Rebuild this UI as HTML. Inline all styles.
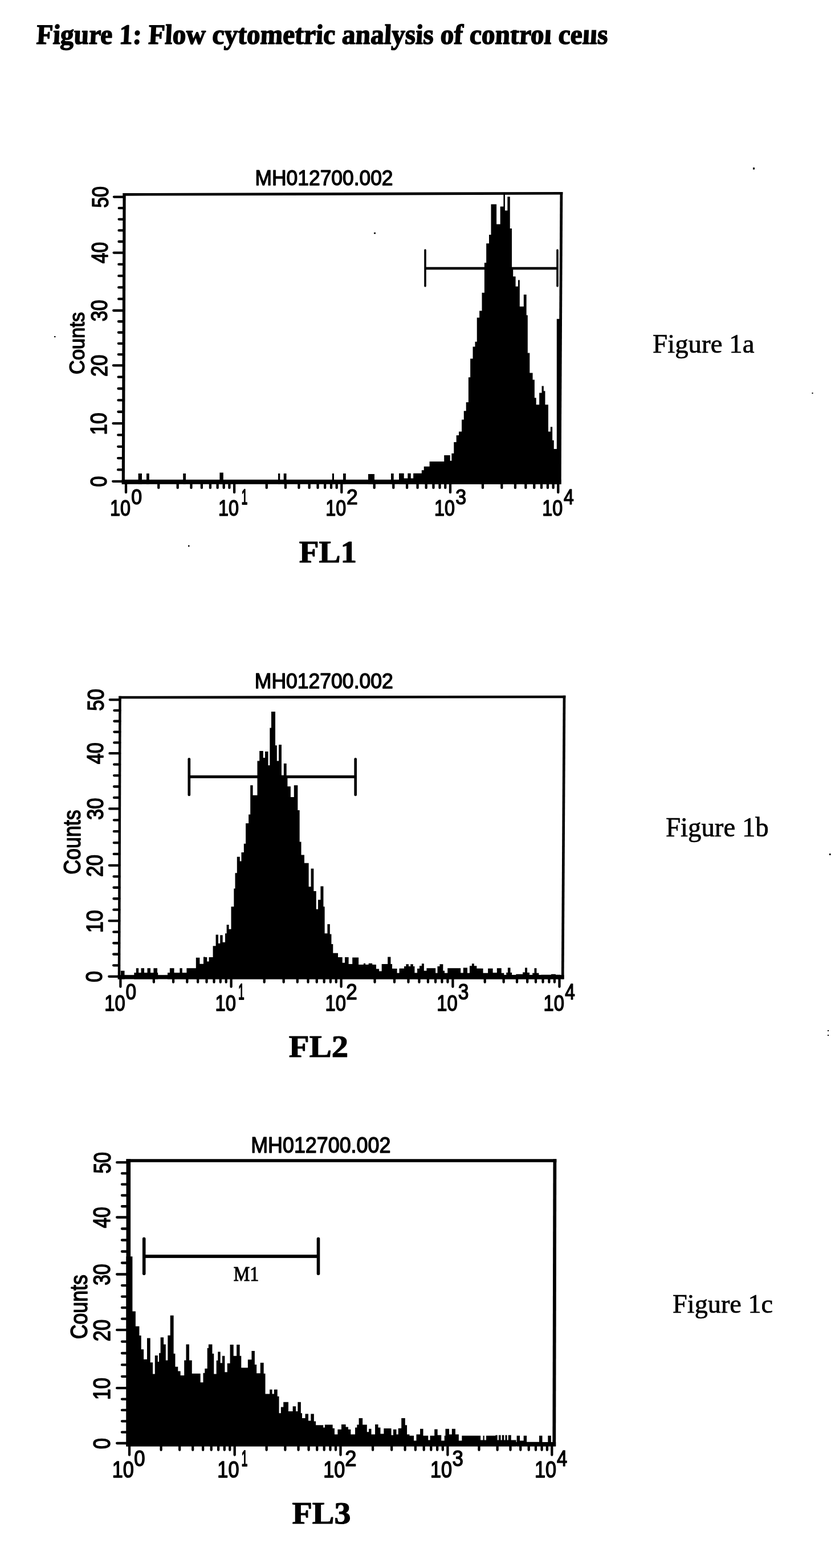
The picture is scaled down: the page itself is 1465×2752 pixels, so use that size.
<!DOCTYPE html>
<html lang="en">
<head>
<meta charset="utf-8">
<title>Figure 1: Flow cytometric analysis of control cells</title>
<style>
html,body{margin:0;padding:0;background:#fff;}
body{width:1465px;height:2752px;overflow:hidden;position:relative;}
svg{position:absolute;left:0;top:0;display:block;}
svg text{fill:#000;white-space:pre;}
svg path,svg rect{fill:#000;}
</style>
</head>
<body>
<svg width="1465" height="2752" viewBox="0 0 1465 2752">
<rect x="0" y="0" width="1465" height="2752" style="fill:#fff"/>
<!-- page heading -->
<text transform="translate(63.22 76.95) scale(0.9646 1) skewX(-3)" font-family='"Liberation Serif", "Times New Roman", Times, serif' font-weight="bold" font-size="49.16" stroke="#000" stroke-width="1.5" stroke-linejoin="round" vector-effect="non-scaling-stroke">Figure 1: Flow cytometric analysis of control cells</text>
<!-- scan cut-off above the last words of the heading -->
<rect x="890" y="30" width="190" height="22.6" style="fill:#fff"/>
<!-- scanner specks -->
<path d="M1321 294h3v3.5h-3zM656 408h3v2.5h-3zM95 590h2.5v2h-2.5zM330 957h2.5v2.5h-2.5zM1424.5 689h2v2h-2zM1455 1498h2.5v3h-2.5zM1452 1808h2v2h-2zM1452 1816h2v2h-2z"/>
<!-- Figure 1a : FL1 -->
<g>
<path d="M215.5 339.1L220.7 339.1L218.9 849.8L213.7 849.8Z"/>
<path d="M215.5 339.1L987.3 337L987.3 341.6L215.5 343.7Z"/>
<path d="M982.5 337L987.3 337L984.4 849.8L979.6 849.8Z"/>
<rect x="213.7" y="841.8" width="770.7" height="8"/>
<path d="M198.15 844.8H216.3M207.02 824.46H216.37M207.1 804.12H216.45M207.17 783.78H216.52M207.24 763.44H216.59M198.52 743.1H216.67M207.39 722.74H216.74M207.46 702.38H216.81M207.54 682.02H216.89M207.61 661.66H216.96M198.88 641.3H217.03M207.75 622.04H217.1M207.82 602.78H217.17M207.89 583.52H217.24M207.96 564.26H217.31M199.23 545H217.38M208.1 524.72H217.45M208.18 504.44H217.53M208.25 484.16H217.6M208.32 463.88H217.67M199.6 443.6H217.75M208.47 424H217.82M208.54 404.4H217.89M208.61 384.8H217.96M208.68 365.2H218.03M199.95 345.6H218.1" stroke="#000" stroke-width="4.3" fill="none" stroke-linecap="round"/>
<path d="M221 848.8V864.15M278.23 848.8V856.15M311.7 848.8V856.15M335.45 848.8V856.15M353.87 848.8V856.15M368.93 848.8V856.15M381.65 848.8V856.15M392.68 848.8V856.15M402.4 848.8V856.15M411.1 848.8V864.15M467.75 848.8V856.15M500.89 848.8V856.15M524.41 848.8V856.15M542.65 848.8V856.15M557.55 848.8V856.15M570.15 848.8V856.15M581.06 848.8V856.15M590.69 848.8V856.15M599.3 848.8V864.15M656.71 848.8V856.15M690.29 848.8V856.15M714.11 848.8V856.15M732.59 848.8V856.15M747.69 848.8V856.15M760.46 848.8V856.15M771.52 848.8V856.15M781.27 848.8V856.15M790 848.8V864.15M846.98 848.8V856.15M880.32 848.8V856.15M903.97 848.8V856.15M922.32 848.8V856.15M937.3 848.8V856.15M949.98 848.8V856.15M960.95 848.8V856.15M970.64 848.8V856.15M979.3 848.8V864.15" stroke="#000" stroke-width="4.3" fill="none" stroke-linecap="round"/>
<path d="M242.6 849.8V831H249V849.8H257V831H261.8V849.8H321.2V831H326V849.8H385.4V829.6H391.8V849.8H488V831H491.3V849.8H497.7V831H502.5V849.8H582.8V831H586V849.8H602V831H606.8V849.8H646V832H657V849.8H686V831H690.7V849.8H700V830.7H708.75V839.45H715.32V830.7H720.79V839.45H725.16V830.7H739.82V825.23H743.76V818.67H753.61V809.91H779.21V798.97H789.72V808.82H792.34V795.69H796.28V776H800.66V763.96H805.03V757.4H810.07V736.61H813.79V721.29H817.72V705.97H821.88V662.21H825.16V629.39H829.54V608.6H833.48V599.85H836.76V557.57H841.14V545.54H845.51V513.81H849.89V461.29H853.17V427.37H857.99V412.06H861.49V358.45H871.12V393.46H877.68V362.39H883.37V340.94H886V369.39H890.37V345.32H894.75V401.12H898.03V470.04H900.22V485.36H904.6V502.87H908.97V491.49H911.82V537.88H918.82V517.09H923.63V553.19H925.82V619.54H929.32V654.55H934.57V666.59H937.86V698.32H940.7V710.35H946.17V689.56H950.55V677.53H953.83V686.28H956.46V710.35H961.93V757.4H965.86V749.3H969.15V772.71H971.77V788.03H976.81V559.76H984.46V849.8Z"/>
<path d="M746 439.1L746 502" stroke="#000" stroke-width="3.6" fill="none" stroke-linecap="round"/>
<path d="M978 439.1L978 502" stroke="#000" stroke-width="3.6" fill="none" stroke-linecap="round"/>
<rect x="746" y="468.7" width="232" height="4.6"/>
</g>
<g>
<text transform="translate(447.58 325.3) scale(0.9422 1)" font-family='"Liberation Sans", Arial, Helvetica, sans-serif' font-weight="normal" font-size="37.56" stroke="#000" stroke-width="1.4" stroke-linejoin="round" vector-effect="non-scaling-stroke">MH012700.002</text>
<text transform="translate(186.68 854.53) rotate(-90) scale(0.8263 1)" font-family='"Liberation Sans", Arial, Helvetica, sans-serif' font-weight="normal" font-size="40.93" stroke="#000" stroke-width="1.45" stroke-linejoin="round" vector-effect="non-scaling-stroke">0</text>
<text transform="translate(187.29 763.62) rotate(-90) scale(0.8609 1)" font-family='"Liberation Sans", Arial, Helvetica, sans-serif' font-weight="normal" font-size="40.93" stroke="#000" stroke-width="1.45" stroke-linejoin="round" vector-effect="non-scaling-stroke">10</text>
<text transform="translate(187.9 660.89) rotate(-90) scale(0.8398 1)" font-family='"Liberation Sans", Arial, Helvetica, sans-serif' font-weight="normal" font-size="40.93" stroke="#000" stroke-width="1.45" stroke-linejoin="round" vector-effect="non-scaling-stroke">20</text>
<text transform="translate(188.48 564.15) rotate(-90) scale(0.8297 1)" font-family='"Liberation Sans", Arial, Helvetica, sans-serif' font-weight="normal" font-size="40.93" stroke="#000" stroke-width="1.45" stroke-linejoin="round" vector-effect="non-scaling-stroke">30</text>
<text transform="translate(189.09 462.23) rotate(-90) scale(0.8179 1)" font-family='"Liberation Sans", Arial, Helvetica, sans-serif' font-weight="normal" font-size="40.93" stroke="#000" stroke-width="1.45" stroke-linejoin="round" vector-effect="non-scaling-stroke">40</text>
<text transform="translate(189.68 364.84) rotate(-90) scale(0.8317 1)" font-family='"Liberation Sans", Arial, Helvetica, sans-serif' font-weight="normal" font-size="40.93" stroke="#000" stroke-width="1.45" stroke-linejoin="round" vector-effect="non-scaling-stroke">50</text>
<text transform="translate(148.2 656.92) rotate(-90) scale(0.9314 1)" font-family='"Liberation Sans", Arial, Helvetica, sans-serif' font-weight="normal" font-size="36.99" stroke="#000" stroke-width="1.4" stroke-linejoin="round" vector-effect="non-scaling-stroke">Counts</text>
<text transform="translate(193 905.48) scale(0.8306 1)" font-family='"Liberation Sans", Arial, Helvetica, sans-serif' font-weight="normal" font-size="38.92" stroke="#000" stroke-width="1.45" stroke-linejoin="round" vector-effect="non-scaling-stroke">10</text>
<text transform="translate(230.17 885.07) scale(0.9021 1)" font-family='"Liberation Sans", Arial, Helvetica, sans-serif' font-weight="normal" font-size="37.49" stroke="#000" stroke-width="1.45" stroke-linejoin="round" vector-effect="non-scaling-stroke">0</text>
<text transform="translate(383.1 905.48) scale(0.8306 1)" font-family='"Liberation Sans", Arial, Helvetica, sans-serif' font-weight="normal" font-size="38.92" stroke="#000" stroke-width="1.45" stroke-linejoin="round" vector-effect="non-scaling-stroke">10</text>
<text transform="translate(423.46 885.07) scale(0.5211 1)" font-family='"Liberation Sans", Arial, Helvetica, sans-serif' font-weight="normal" font-size="37.49" stroke="#000" stroke-width="1.45" stroke-linejoin="round" vector-effect="non-scaling-stroke">1</text>
<text transform="translate(571.3 905.48) scale(0.8306 1)" font-family='"Liberation Sans", Arial, Helvetica, sans-serif' font-weight="normal" font-size="38.92" stroke="#000" stroke-width="1.45" stroke-linejoin="round" vector-effect="non-scaling-stroke">10</text>
<text transform="translate(608.05 885.07) scale(0.9467 1)" font-family='"Liberation Sans", Arial, Helvetica, sans-serif' font-weight="normal" font-size="37.49" stroke="#000" stroke-width="1.45" stroke-linejoin="round" vector-effect="non-scaling-stroke">2</text>
<text transform="translate(762 905.48) scale(0.8306 1)" font-family='"Liberation Sans", Arial, Helvetica, sans-serif' font-weight="normal" font-size="38.92" stroke="#000" stroke-width="1.45" stroke-linejoin="round" vector-effect="non-scaling-stroke">10</text>
<text transform="translate(799.25 885.07) scale(0.9069 1)" font-family='"Liberation Sans", Arial, Helvetica, sans-serif' font-weight="normal" font-size="37.49" stroke="#000" stroke-width="1.45" stroke-linejoin="round" vector-effect="non-scaling-stroke">3</text>
<text transform="translate(951.3 905.48) scale(0.8306 1)" font-family='"Liberation Sans", Arial, Helvetica, sans-serif' font-weight="normal" font-size="38.92" stroke="#000" stroke-width="1.45" stroke-linejoin="round" vector-effect="non-scaling-stroke">10</text>
<text transform="translate(989.11 885.07) scale(0.8530 1)" font-family='"Liberation Sans", Arial, Helvetica, sans-serif' font-weight="normal" font-size="37.49" stroke="#000" stroke-width="1.45" stroke-linejoin="round" vector-effect="non-scaling-stroke">4</text>
</g>
<text transform="translate(524.8 986.8) scale(1.0282 1)" font-family='"Liberation Serif", "Times New Roman", Times, serif' font-weight="bold" font-size="55.42" stroke="#000" stroke-width="1.2" stroke-linejoin="round" vector-effect="non-scaling-stroke">FL1</text>
<text transform="translate(1145.06 618.75) scale(0.9912 1)" font-family='"Liberation Serif", "Times New Roman", Times, serif' font-weight="normal" font-size="47.33" stroke="#000" stroke-width="0.7" stroke-linejoin="round" vector-effect="non-scaling-stroke">Figure 1a</text>
<!-- Figure 1b : FL2 -->
<g>
<path d="M208.25 1221.7L212.75 1221.7L211.25 1718.5L206.75 1718.5Z"/>
<path d="M208.25 1221.7L992.35 1220.7L992.35 1225.3L208.25 1226.3Z"/>
<path d="M987.65 1220.7L992.35 1220.7L989.55 1718.5L984.85 1718.5Z"/>
<rect x="206.75" y="1711.2" width="782.8" height="7.3"/>
<path d="M191.25 1713.8H209M199.11 1694.28H209.06M199.17 1674.76H209.12M199.23 1655.24H209.18M199.29 1635.72H209.24M191.55 1616.2H209.3M199.41 1596.72H209.36M199.47 1577.24H209.42M199.53 1557.76H209.48M199.59 1538.28H209.54M191.85 1518.8H209.6M199.71 1498.92H209.66M199.78 1479.04H209.73M199.84 1459.16H209.79M199.9 1439.28H209.85M192.16 1419.4H209.91M200.02 1399.96H209.97M200.08 1380.52H210.03M200.14 1361.08H210.09M200.2 1341.64H210.15M192.46 1322.2H210.21M200.32 1303.38H210.27M200.38 1284.56H210.33M200.43 1265.74H210.38M200.49 1246.92H210.44M192.75 1228.1H210.5" stroke="#000" stroke-width="4.3" fill="none" stroke-linecap="round"/>
<path d="M211.4 1717.5V1731.85M269.86 1717.5V1723.85M304.06 1717.5V1723.85M328.32 1717.5V1723.85M347.14 1717.5V1723.85M362.52 1717.5V1723.85M375.52 1717.5V1723.85M386.78 1717.5V1723.85M396.71 1717.5V1723.85M405.6 1717.5V1731.85M463.7 1717.5V1723.85M497.68 1717.5V1723.85M521.8 1717.5V1723.85M540.5 1717.5V1723.85M555.78 1717.5V1723.85M568.7 1717.5V1723.85M579.9 1717.5V1723.85M589.77 1717.5V1723.85M598.6 1717.5V1731.85M657.54 1717.5V1723.85M692.02 1717.5V1723.85M716.48 1717.5V1723.85M735.46 1717.5V1723.85M750.96 1717.5V1723.85M764.07 1717.5V1723.85M775.43 1717.5V1723.85M785.44 1717.5V1723.85M794.4 1717.5V1731.85M850.72 1717.5V1723.85M883.67 1717.5V1723.85M907.05 1717.5V1723.85M925.18 1717.5V1723.85M939.99 1717.5V1723.85M952.52 1717.5V1723.85M963.37 1717.5V1723.85M972.94 1717.5V1723.85M981.5 1717.5V1731.85" stroke="#000" stroke-width="4.3" fill="none" stroke-linecap="round"/>
<path d="M211.8 1718.5V1703.8H218.5V1718.5H235.3V1707.3H238.8V1699.3H243.17V1707.3H247.55V1699.3H253.02V1707.3H258.49V1699.3H263.96V1707.3H269.43V1699.3H276V1707.3H277.2V1718.5H294V1707.3H297.88V1699.3H305.54V1707.3H315.38V1699.3H319.76V1707.3H327.42V1699.3H343.83V1680.7H350.39V1691.64H356.96V1679.61H360V1679.91H363.28V1687.57H366.56V1679.91H373.57V1660.22H378.6V1640.53H382.98V1655.84H386.26V1641.18H390.63V1653.65H395.01V1638.34H397.64V1623.02H401.58V1630.68H405.51V1591.29H410.33V1559.56H412.52V1532.21H415.8V1503.76H420.83V1511.42H423.46V1496.11H427.83V1480.79H431.12V1444.92H436.15V1429.61H439.21V1378.18H443.59V1395.69H451.47V1335.51H455.19V1318.01H461.75V1330.04H465.03V1319.1H470.5V1343.17H473.35V1277.53H475.97V1249.08H482.98V1308.16H485.82V1335.51H489.1V1307.07H493.92V1360.68H497.86V1339.89H502.67V1362.87H504.42V1380.37H509.89V1398.97H515.8V1378.18H522.36V1421.95H525.65V1477.51H528.49V1500.48H533.96V1514.7H541.62V1556.28H545.56V1524.55H550.37V1563.94H554.75V1595.67H558.03V1579.26H562.41V1555.62H567.44V1591.29H569.63V1638.34H574.44V1621.93H578.82V1639.43H581.44V1656.94H584.29V1672.69H593.04V1679.91H600.7V1689.76H605.08V1679.91H611.64V1691.95H618.21V1680.57H629.15V1693.04H637.9V1690.85H641.18V1693.04H646.65V1690.85H653.22V1693.04H660V1700.55H665.1V1704.49H669.69V1692.01H680.2V1679.54H685.45V1692.01H688.07V1699.89H696.61V1707.77H700.55V1699.63H709.08V1695.95H712.36V1692.28H716.96V1695.95H720.24V1692.28H724.84V1695.95H727.46V1707.51H732.06V1699.89H736V1695.3H739.93V1691.36H743.87V1703.83H748.47V1699.23H764.22V1707.77H767.51V1695.95H771.44V1692.28H777.35V1703.83H779.98V1707.77H785.23V1699.23H808.21V1707.51H812.8V1698.58H820V1707.77H823.94V1695.3H827.88V1691.36H831.82V1695.3H836.41V1699.63H847.57V1707.77H856.11V1699.63H864.64V1707.37H871.86V1699.23H879.74V1707.77H884.33V1711.05H888.27V1707.11H890.9V1698.58H895.49V1707.11H898.12V1711.05H905.34V1709.74H917.16V1706.46H921.09V1698.58H925.03V1707.11H928.97V1711.05H934.22V1707.77H937.51V1699.23H941.44V1707.77H945.38V1711.05H949.32V1710.66H967.05V1709.74H974.92V1710.66H983.46V1718.5Z"/>
<path d="M331.8 1332.35L331.8 1394.95" stroke="#000" stroke-width="4.7" fill="none" stroke-linecap="round"/>
<path d="M623.7 1332.35L623.7 1394.95" stroke="#000" stroke-width="4.7" fill="none" stroke-linecap="round"/>
<rect x="331.8" y="1360.8" width="291.9" height="5"/>
</g>
<g>
<text transform="translate(446.77 1208.3) scale(0.9612 1)" font-family='"Liberation Sans", Arial, Helvetica, sans-serif' font-weight="normal" font-size="36.99" stroke="#000" stroke-width="1.4" stroke-linejoin="round" vector-effect="non-scaling-stroke">MH012700.002</text>
<text transform="translate(179.28 1724.09) rotate(-90) scale(0.8552 1)" font-family='"Liberation Sans", Arial, Helvetica, sans-serif' font-weight="normal" font-size="41.51" stroke="#000" stroke-width="1.45" stroke-linejoin="round" vector-effect="non-scaling-stroke">0</text>
<text transform="translate(179.8 1637.28) rotate(-90) scale(0.8683 1)" font-family='"Liberation Sans", Arial, Helvetica, sans-serif' font-weight="normal" font-size="41.51" stroke="#000" stroke-width="1.45" stroke-linejoin="round" vector-effect="non-scaling-stroke">10</text>
<text transform="translate(180.32 1538.93) rotate(-90) scale(0.8471 1)" font-family='"Liberation Sans", Arial, Helvetica, sans-serif' font-weight="normal" font-size="41.51" stroke="#000" stroke-width="1.45" stroke-linejoin="round" vector-effect="non-scaling-stroke">20</text>
<text transform="translate(180.85 1439.08) rotate(-90) scale(0.8369 1)" font-family='"Liberation Sans", Arial, Helvetica, sans-serif' font-weight="normal" font-size="41.51" stroke="#000" stroke-width="1.45" stroke-linejoin="round" vector-effect="non-scaling-stroke">30</text>
<text transform="translate(181.37 1341.35) rotate(-90) scale(0.8249 1)" font-family='"Liberation Sans", Arial, Helvetica, sans-serif' font-weight="normal" font-size="41.51" stroke="#000" stroke-width="1.45" stroke-linejoin="round" vector-effect="non-scaling-stroke">40</text>
<text transform="translate(181.88 1247.87) rotate(-90) scale(0.8389 1)" font-family='"Liberation Sans", Arial, Helvetica, sans-serif' font-weight="normal" font-size="41.51" stroke="#000" stroke-width="1.45" stroke-linejoin="round" vector-effect="non-scaling-stroke">50</text>
<text transform="translate(141.3 1534.79) rotate(-90) scale(0.8555 1)" font-family='"Liberation Sans", Arial, Helvetica, sans-serif' font-weight="normal" font-size="41.86" stroke="#000" stroke-width="1.4" stroke-linejoin="round" vector-effect="non-scaling-stroke">Counts</text>
<text transform="translate(183.37 1773.78) scale(0.8287 1)" font-family='"Liberation Sans", Arial, Helvetica, sans-serif' font-weight="normal" font-size="39.5" stroke="#000" stroke-width="1.45" stroke-linejoin="round" vector-effect="non-scaling-stroke">10</text>
<text transform="translate(220.59 1754.08) scale(0.8519 1)" font-family='"Liberation Sans", Arial, Helvetica, sans-serif' font-weight="normal" font-size="39.21" stroke="#000" stroke-width="1.45" stroke-linejoin="round" vector-effect="non-scaling-stroke">0</text>
<text transform="translate(377.57 1773.78) scale(0.8287 1)" font-family='"Liberation Sans", Arial, Helvetica, sans-serif' font-weight="normal" font-size="39.5" stroke="#000" stroke-width="1.45" stroke-linejoin="round" vector-effect="non-scaling-stroke">10</text>
<text transform="translate(418.08 1754.08) scale(0.4924 1)" font-family='"Liberation Sans", Arial, Helvetica, sans-serif' font-weight="normal" font-size="39.21" stroke="#000" stroke-width="1.45" stroke-linejoin="round" vector-effect="non-scaling-stroke">1</text>
<text transform="translate(570.57 1773.78) scale(0.8287 1)" font-family='"Liberation Sans", Arial, Helvetica, sans-serif' font-weight="normal" font-size="39.5" stroke="#000" stroke-width="1.45" stroke-linejoin="round" vector-effect="non-scaling-stroke">10</text>
<text transform="translate(607.37 1754.08) scale(0.8940 1)" font-family='"Liberation Sans", Arial, Helvetica, sans-serif' font-weight="normal" font-size="39.21" stroke="#000" stroke-width="1.45" stroke-linejoin="round" vector-effect="non-scaling-stroke">2</text>
<text transform="translate(766.37 1773.78) scale(0.8287 1)" font-family='"Liberation Sans", Arial, Helvetica, sans-serif' font-weight="normal" font-size="39.5" stroke="#000" stroke-width="1.45" stroke-linejoin="round" vector-effect="non-scaling-stroke">10</text>
<text transform="translate(803.67 1754.08) scale(0.8564 1)" font-family='"Liberation Sans", Arial, Helvetica, sans-serif' font-weight="normal" font-size="39.21" stroke="#000" stroke-width="1.45" stroke-linejoin="round" vector-effect="non-scaling-stroke">3</text>
<text transform="translate(953.47 1773.78) scale(0.8287 1)" font-family='"Liberation Sans", Arial, Helvetica, sans-serif' font-weight="normal" font-size="39.5" stroke="#000" stroke-width="1.45" stroke-linejoin="round" vector-effect="non-scaling-stroke">10</text>
<text transform="translate(991.31 1754.08) scale(0.8055 1)" font-family='"Liberation Sans", Arial, Helvetica, sans-serif' font-weight="normal" font-size="39.21" stroke="#000" stroke-width="1.45" stroke-linejoin="round" vector-effect="non-scaling-stroke">4</text>
</g>
<text transform="translate(506.87 1855.2) scale(1.0678 1)" font-family='"Liberation Serif", "Times New Roman", Times, serif' font-weight="bold" font-size="54.96" stroke="#000" stroke-width="1.2" stroke-linejoin="round" vector-effect="non-scaling-stroke">FL2</text>
<text transform="translate(1167.96 1467.95) scale(0.9737 1)" font-family='"Liberation Serif", "Times New Roman", Times, serif' font-weight="normal" font-size="48.09" stroke="#000" stroke-width="0.7" stroke-linejoin="round" vector-effect="non-scaling-stroke">Figure 1b</text>
<!-- Figure 1c : FL3 -->
<g>
<path d="M221.5 2034.2L229.1 2034.2L229.1 2538.4L221.5 2538.4Z"/>
<path d="M221.5 2034.2L976.3 2034.2L976.3 2039.8L221.5 2039.8Z"/>
<path d="M970.5 2034.2L976.3 2034.2L975.2 2538.4L969.4 2538.4Z"/>
<rect x="221.5" y="2531" width="753.7" height="7.4"/>
<path d="M205.15 2533H225.3M213.95 2513.64H225.3M213.95 2494.28H225.3M213.95 2474.92H225.3M213.95 2455.56H225.3M205.15 2436.2H225.3M213.95 2415.8H225.3M213.95 2395.4H225.3M213.95 2375H225.3M213.95 2354.6H225.3M205.15 2334.2H225.3M213.95 2314.66H225.3M213.95 2295.12H225.3M213.95 2275.58H225.3M213.95 2256.04H225.3M205.15 2236.5H225.3M213.95 2216.5H225.3M213.95 2196.5H225.3M213.95 2176.5H225.3M213.95 2156.5H225.3M205.15 2136.5H225.3M213.95 2117.24H225.3M213.95 2097.98H225.3M213.95 2078.72H225.3M213.95 2059.46H225.3M205.15 2040.2H225.3" stroke="#000" stroke-width="4.3" fill="none" stroke-linecap="round"/>
<path d="M227 2537.4V2553.55M282.6 2537.4V2544.85M315.12 2537.4V2544.85M338.2 2537.4V2544.85M356.1 2537.4V2544.85M370.72 2537.4V2544.85M383.09 2537.4V2544.85M393.8 2537.4V2544.85M403.25 2537.4V2544.85M411.7 2537.4V2553.55M467.63 2537.4V2544.85M500.35 2537.4V2544.85M523.56 2537.4V2544.85M541.57 2537.4V2544.85M556.28 2537.4V2544.85M568.72 2537.4V2544.85M579.49 2537.4V2544.85M589 2537.4V2544.85M597.5 2537.4V2553.55M654.06 2537.4V2544.85M687.15 2537.4V2544.85M710.63 2537.4V2544.85M728.84 2537.4V2544.85M743.71 2537.4V2544.85M756.29 2537.4V2544.85M767.19 2537.4V2544.85M776.8 2537.4V2544.85M785.4 2537.4V2553.55M840.46 2537.4V2544.85M872.67 2537.4V2544.85M895.52 2537.4V2544.85M913.24 2537.4V2544.85M927.72 2537.4V2544.85M939.97 2537.4V2544.85M950.58 2537.4V2544.85M959.93 2537.4V2544.85M968.3 2537.4V2553.55" stroke="#000" stroke-width="4.3" fill="none" stroke-linecap="round"/>
<path d="M221.44 2538.4V2205.14H232.39V2301.42H237.86V2327.68H244.42V2344.09H247.7V2368.16H252.08V2385.67H257.99V2348.47H263.68V2391.14H268.05V2411.49H271.77V2379.1H276.81V2390.04H278.99V2374.73H281.62V2347.37H287.09V2359.41H290.81V2387.42H294.31V2343.65H298.69V2308.64H304.6V2375.82H307.44V2398.8H312.25V2406.46H316.63V2414.11H323.19V2387.42H326.48V2359.41H331.95V2387.42H336.76V2410.83H351.64V2426.15H356.46V2409.74H359.3V2402.08H363.68V2365.97H365.86V2359.41H372.43V2375.82H375.27V2411.49H379.65V2387.86H382.28V2372.54H386.65V2392.23H389.93V2379.72H394.38V2408.16H398.75V2392.84H403.57V2360.02H409.69V2379.72H415.16V2360.02H420.63V2379.72H423.26V2400.5H434.86V2386.28H441.42V2370.96H446.89V2395.03H450.18V2410.35H456.74V2391.75H462.65V2410.79H465.49V2446.46H473.15V2438.8H477.53V2446.46H480.81V2438.8H486.72V2450.83H489.56V2480.37H492.84V2469.43H497.22V2460.68H505.97V2477.09H513.63V2468.34H519.1V2477.09H522.39V2460.68H527.86V2480.37H530.04V2489.12H535.51V2481.47H540.98V2493.5H545.36V2481.47H550.83V2494.6H554.11V2501.16H567.24V2505.54H569.87V2500.5H583.65V2506.63H586.94V2517.57H592.41V2508.82H598.97V2500.07H606.63V2504.44H611.01V2508.82H615.38V2517.57H623.04V2505.54H626.32V2500.5H629.61V2489.12H636.17V2500.5H643.83V2513.19H647.11V2507.72H651.49V2517.57H658.05V2500.07H663.52V2505.54H667.46V2516.48H673.37V2507.07H686.5V2518.67H690V2508.82H695.47V2517.57H698.75V2506.63H704.22V2489.12H710.79V2501.16H714.07V2517.57H718.45V2519.76H726.11V2528.51H730.48V2517.57H737.05V2507.72H742.52V2519.76H751.27V2527.42H754.55V2519.76H762.21V2508.38H767.68V2518.67H774.25V2528.51H779.72V2519.76H781.47V2507.72H788.03V2517.57H792.84V2507.72H798.97V2517.57H804.88V2528.51H810.35V2519.76H843.17V2527.42H847.55V2519.76H849.74V2527.42H853.02V2519.76H869.43V2518.67H872.71V2527.42H874.9V2518.67H878.62V2527.42H880.81V2518.67H884.31V2527.42H886.5V2518.67H889.56V2527.42H891.75V2518.67H896.78V2527.42H905.54V2538.4H906.63V2519.76H912.1V2528.51H918.67V2519.76H924.14V2530.7H946.02V2519.76H951.49V2531.79H961.33V2519.76H966.81V2538.4Z"/>
<path d="M252.7 2174.3L252.7 2235.2" stroke="#000" stroke-width="5.6" fill="none" stroke-linecap="round"/>
<path d="M558.5 2174.3L558.5 2235.2" stroke="#000" stroke-width="5.6" fill="none" stroke-linecap="round"/>
<rect x="252.7" y="2202.1" width="305.8" height="5.8"/>
</g>
<g>
<text transform="translate(440.24 2023.1) scale(0.9402 1)" font-family='"Liberation Sans", Arial, Helvetica, sans-serif' font-weight="normal" font-size="38.14" stroke="#000" stroke-width="1.4" stroke-linejoin="round" vector-effect="non-scaling-stroke">MH012700.002</text>
<text transform="translate(193.08 2543.36) rotate(-90) scale(0.8181 1)" font-family='"Liberation Sans", Arial, Helvetica, sans-serif' font-weight="normal" font-size="42.37" stroke="#000" stroke-width="1.45" stroke-linejoin="round" vector-effect="non-scaling-stroke">0</text>
<text transform="translate(193.17 2457.12) rotate(-90) scale(0.8318 1)" font-family='"Liberation Sans", Arial, Helvetica, sans-serif' font-weight="normal" font-size="42.37" stroke="#000" stroke-width="1.45" stroke-linejoin="round" vector-effect="non-scaling-stroke">10</text>
<text transform="translate(193.28 2354.19) rotate(-90) scale(0.8114 1)" font-family='"Liberation Sans", Arial, Helvetica, sans-serif' font-weight="normal" font-size="42.37" stroke="#000" stroke-width="1.45" stroke-linejoin="round" vector-effect="non-scaling-stroke">20</text>
<text transform="translate(193.38 2256.05) rotate(-90) scale(0.8016 1)" font-family='"Liberation Sans", Arial, Helvetica, sans-serif' font-weight="normal" font-size="42.37" stroke="#000" stroke-width="1.45" stroke-linejoin="round" vector-effect="non-scaling-stroke">30</text>
<text transform="translate(193.48 2155.53) rotate(-90) scale(0.7902 1)" font-family='"Liberation Sans", Arial, Helvetica, sans-serif' font-weight="normal" font-size="42.37" stroke="#000" stroke-width="1.45" stroke-linejoin="round" vector-effect="non-scaling-stroke">40</text>
<text transform="translate(193.58 2059.84) rotate(-90) scale(0.8036 1)" font-family='"Liberation Sans", Arial, Helvetica, sans-serif' font-weight="normal" font-size="42.37" stroke="#000" stroke-width="1.45" stroke-linejoin="round" vector-effect="non-scaling-stroke">50</text>
<text transform="translate(153.4 2350.18) rotate(-90) scale(0.8262 1)" font-family='"Liberation Sans", Arial, Helvetica, sans-serif' font-weight="normal" font-size="43.15" stroke="#000" stroke-width="1.4" stroke-linejoin="round" vector-effect="non-scaling-stroke">Counts</text>
<text transform="translate(196.66 2593.47) scale(0.8423 1)" font-family='"Liberation Sans", Arial, Helvetica, sans-serif' font-weight="normal" font-size="40.65" stroke="#000" stroke-width="1.45" stroke-linejoin="round" vector-effect="non-scaling-stroke">10</text>
<text transform="translate(235.14 2573.28) scale(0.9106 1)" font-family='"Liberation Sans", Arial, Helvetica, sans-serif' font-weight="normal" font-size="38.06" stroke="#000" stroke-width="1.45" stroke-linejoin="round" vector-effect="non-scaling-stroke">0</text>
<text transform="translate(381.36 2593.47) scale(0.8423 1)" font-family='"Liberation Sans", Arial, Helvetica, sans-serif' font-weight="normal" font-size="40.65" stroke="#000" stroke-width="1.45" stroke-linejoin="round" vector-effect="non-scaling-stroke">10</text>
<text transform="translate(423.44 2573.28) scale(0.5193 1)" font-family='"Liberation Sans", Arial, Helvetica, sans-serif' font-weight="normal" font-size="38.06" stroke="#000" stroke-width="1.45" stroke-linejoin="round" vector-effect="non-scaling-stroke">1</text>
<text transform="translate(567.16 2593.47) scale(0.8423 1)" font-family='"Liberation Sans", Arial, Helvetica, sans-serif' font-weight="normal" font-size="40.65" stroke="#000" stroke-width="1.45" stroke-linejoin="round" vector-effect="non-scaling-stroke">10</text>
<text transform="translate(605.21 2573.28) scale(0.9556 1)" font-family='"Liberation Sans", Arial, Helvetica, sans-serif' font-weight="normal" font-size="38.06" stroke="#000" stroke-width="1.45" stroke-linejoin="round" vector-effect="non-scaling-stroke">2</text>
<text transform="translate(755.06 2593.47) scale(0.8423 1)" font-family='"Liberation Sans", Arial, Helvetica, sans-serif' font-weight="normal" font-size="40.65" stroke="#000" stroke-width="1.45" stroke-linejoin="round" vector-effect="non-scaling-stroke">10</text>
<text transform="translate(793.62 2573.28) scale(0.9153 1)" font-family='"Liberation Sans", Arial, Helvetica, sans-serif' font-weight="normal" font-size="38.06" stroke="#000" stroke-width="1.45" stroke-linejoin="round" vector-effect="non-scaling-stroke">3</text>
<text transform="translate(937.96 2593.47) scale(0.8423 1)" font-family='"Liberation Sans", Arial, Helvetica, sans-serif' font-weight="normal" font-size="40.65" stroke="#000" stroke-width="1.45" stroke-linejoin="round" vector-effect="non-scaling-stroke">10</text>
<text transform="translate(977.09 2573.28) scale(0.8610 1)" font-family='"Liberation Sans", Arial, Helvetica, sans-serif' font-weight="normal" font-size="38.06" stroke="#000" stroke-width="1.45" stroke-linejoin="round" vector-effect="non-scaling-stroke">4</text>
</g>
<text transform="translate(409.77 2247.95) scale(0.8795 1)" font-family='"Liberation Serif", "Times New Roman", Times, serif' font-weight="normal" font-size="36.49" stroke="#000" stroke-width="1.1" stroke-linejoin="round" vector-effect="non-scaling-stroke">M1</text>
<text transform="translate(512.39 2674.1) scale(1.0421 1)" font-family='"Liberation Serif", "Times New Roman", Times, serif' font-weight="bold" font-size="55.57" stroke="#000" stroke-width="1.2" stroke-linejoin="round" vector-effect="non-scaling-stroke">FL3</text>
<text transform="translate(1180.08 2303.85) scale(0.9777 1)" font-family='"Liberation Serif", "Times New Roman", Times, serif' font-weight="normal" font-size="47.33" stroke="#000" stroke-width="0.7" stroke-linejoin="round" vector-effect="non-scaling-stroke">Figure 1c</text>
</svg>
</body>
</html>
